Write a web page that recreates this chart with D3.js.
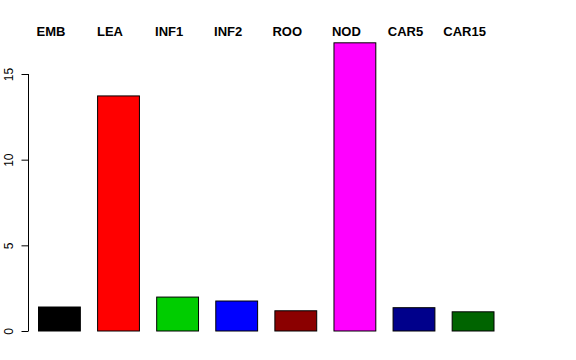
<!DOCTYPE html>
<html>
<head>
<meta charset="utf-8">
<script src="https://cdn.jsdelivr.net/npm/d3@7"></script>
<style>
  body { margin: 0; background: #fff; }
  svg { display: block; }
</style>
</head>
<body>
<script>
const categories = ["EMB", "LEA", "INF1", "INF2", "ROO", "NOD", "CAR5", "CAR15"];
const values = [1.40, 13.72, 1.98, 1.75, 1.18, 16.82, 1.36, 1.12];
const colors = ["#000000", "#ff0000", "#00cd00", "#0000ff", "#8b0000", "#ff00ff", "#00008b", "#006400"];
const yTicks = [0, 5, 10, 15];

const w = 576;
const h = 360;

const svg = d3.select("body")
  .append("svg")
  .attr("width", w)
  .attr("height", h);

// bar positions
const x = d3.scaleBand()
  .domain(categories)
  .range([38, 493.5])
  .paddingInner(0.292)
  .paddingOuter(0);

const y = d3.scaleLinear()
  .domain([0, 15])
  .range([331, 74]);

// bars
svg.selectAll(".bar")
  .data(categories)
  .enter()
  .append("rect")
  .attr("class", "bar")
  .attr("x", d => x(d) + 0.5)
  .attr("y", (d, i) => y(values[i]))
  .attr("width", x.bandwidth())
  .attr("height", (d, i) => y(0) - y(values[i]))
  .attr("fill", (d, i) => colors[i])
  .attr("stroke", "#000")
  .attr("stroke-width", 1);

// category labels along the top
svg.selectAll(".lab")
  .data(categories)
  .enter()
  .append("text")
  .attr("class", "lab")
  .attr("x", d => x(d) + x.bandwidth() / 2 - 8)
  .attr("y", 35.5)
  .attr("text-anchor", "middle")
  .style("font-family", "Liberation Sans, Arial, sans-serif")
  .style("font-weight", "bold")
  .style("font-size", "13px")
  .text(d => d);

// y axis (R style: rotated labels)
const yAxis = d3.axisLeft(y)
  .tickValues(yTicks)
  .tickSize(7)
  .tickPadding(0)
  .tickFormat(d3.format("d"));

const gy = svg.append("g")
  .attr("transform", "translate(28.5,0)")
  .call(yAxis);

gy.select(".domain")
  .attr("d", `M0,${y(0)}V${y(15)}`)
  .attr("stroke", "#000");

gy.selectAll(".tick line").attr("stroke", "#000");

gy.selectAll(".tick text")
  .attr("x", null)
  .attr("dy", null)
  .attr("text-anchor", "middle")
  .attr("transform", "translate(-15.5,0) rotate(-90)")
  .style("font-family", "Liberation Sans, Arial, sans-serif")
  .style("font-size", "12px")
  .attr("fill", "#000");
</script>
</body>
</html>
